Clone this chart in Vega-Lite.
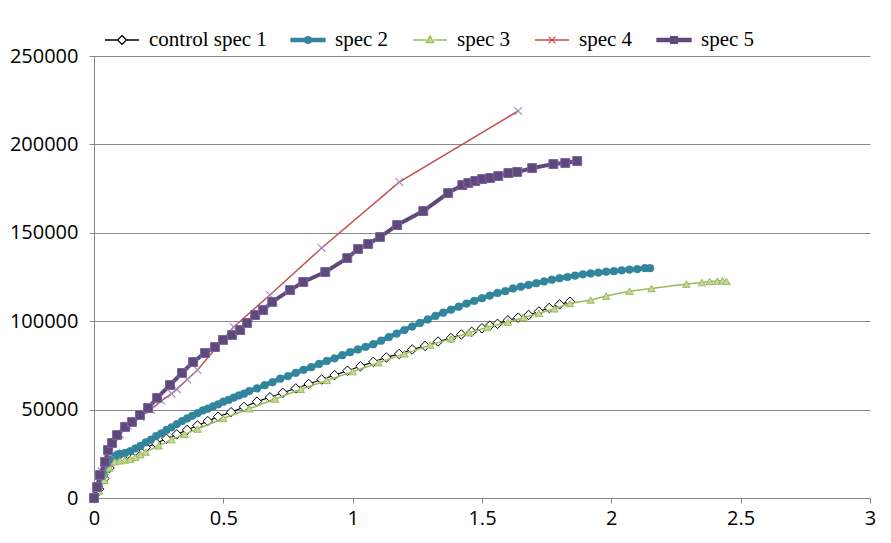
{
  "$schema": "https://vega.github.io/schema/vega-lite/v6.json",
  "width": 776,
  "height": 442,
  "autosize": {"type": "none"},
  "padding": {"left": 94, "top": 56, "right": 21, "bottom": 45},
  "background": "white",
  "config": {"view": {"stroke": null}},
  "data": {"values": [
    {"s":"control spec 1","x":0,"y":0},{"s":"control spec 1","x":0.02,"y":5000},{"s":"control spec 1","x":0.04,"y":11000},{"s":"control spec 1","x":0.06,"y":17000},{"s":"control spec 1","x":0.08,"y":22000},{"s":"control spec 1","x":0.1,"y":24500},{"s":"control spec 1","x":0.13,"y":25000},{"s":"control spec 1","x":0.16,"y":26500},{"s":"control spec 1","x":0.2,"y":28500},{"s":"control spec 1","x":0.24,"y":31000},{"s":"control spec 1","x":0.28,"y":33500},{"s":"control spec 1","x":0.32,"y":36000},{"s":"control spec 1","x":0.36,"y":38500},{"s":"control spec 1","x":0.4,"y":41000},{"s":"control spec 1","x":0.44,"y":43500},{"s":"control spec 1","x":0.48,"y":46000},{"s":"control spec 1","x":0.53,"y":48500},{"s":"control spec 1","x":0.58,"y":51500},{"s":"control spec 1","x":0.63,"y":54500},{"s":"control spec 1","x":0.68,"y":57000},{"s":"control spec 1","x":0.73,"y":59500},{"s":"control spec 1","x":0.78,"y":62000},{"s":"control spec 1","x":0.83,"y":64500},{"s":"control spec 1","x":0.88,"y":67000},{"s":"control spec 1","x":0.93,"y":69500},{"s":"control spec 1","x":0.98,"y":72000},{"s":"control spec 1","x":1.03,"y":74500},{"s":"control spec 1","x":1.08,"y":77000},{"s":"control spec 1","x":1.13,"y":79500},{"s":"control spec 1","x":1.18,"y":81500},{"s":"control spec 1","x":1.23,"y":84000},{"s":"control spec 1","x":1.28,"y":86000},{"s":"control spec 1","x":1.33,"y":88500},{"s":"control spec 1","x":1.38,"y":90500},{"s":"control spec 1","x":1.42,"y":92500},{"s":"control spec 1","x":1.46,"y":94000},{"s":"control spec 1","x":1.5,"y":96000},{"s":"control spec 1","x":1.53,"y":97500},{"s":"control spec 1","x":1.56,"y":98500},{"s":"control spec 1","x":1.6,"y":100500},{"s":"control spec 1","x":1.64,"y":102000},{"s":"control spec 1","x":1.68,"y":103500},{"s":"control spec 1","x":1.72,"y":105500},{"s":"control spec 1","x":1.76,"y":107500},{"s":"control spec 1","x":1.8,"y":109500},{"s":"control spec 1","x":1.84,"y":111000},
    {"s":"spec 2","x":0,"y":0},{"s":"spec 2","x":0.01,"y":3000},{"s":"spec 2","x":0.02,"y":6500},{"s":"spec 2","x":0.03,"y":10000},{"s":"spec 2","x":0.04,"y":13500},{"s":"spec 2","x":0.05,"y":16500},{"s":"spec 2","x":0.06,"y":19500},{"s":"spec 2","x":0.07,"y":22000},{"s":"spec 2","x":0.08,"y":23500},{"s":"spec 2","x":0.09,"y":24500},{"s":"spec 2","x":0.1,"y":25000},{"s":"spec 2","x":0.12,"y":25500},{"s":"spec 2","x":0.14,"y":26500},{"s":"spec 2","x":0.16,"y":28000},{"s":"spec 2","x":0.18,"y":29500},{"s":"spec 2","x":0.2,"y":31500},{"s":"spec 2","x":0.22,"y":33000},{"s":"spec 2","x":0.24,"y":35000},{"s":"spec 2","x":0.26,"y":36500},{"s":"spec 2","x":0.28,"y":38500},{"s":"spec 2","x":0.3,"y":40000},{"s":"spec 2","x":0.32,"y":41800},{"s":"spec 2","x":0.34,"y":43500},{"s":"spec 2","x":0.36,"y":45000},{"s":"spec 2","x":0.38,"y":46500},{"s":"spec 2","x":0.4,"y":48000},{"s":"spec 2","x":0.42,"y":49500},{"s":"spec 2","x":0.44,"y":50500},{"s":"spec 2","x":0.46,"y":51800},{"s":"spec 2","x":0.48,"y":53000},{"s":"spec 2","x":0.5,"y":54500},{"s":"spec 2","x":0.52,"y":55500},{"s":"spec 2","x":0.54,"y":56800},{"s":"spec 2","x":0.56,"y":58000},{"s":"spec 2","x":0.58,"y":59000},{"s":"spec 2","x":0.6,"y":60500},{"s":"spec 2","x":0.63,"y":62000},{"s":"spec 2","x":0.66,"y":63800},{"s":"spec 2","x":0.69,"y":65500},{"s":"spec 2","x":0.72,"y":67500},{"s":"spec 2","x":0.75,"y":69000},{"s":"spec 2","x":0.78,"y":70800},{"s":"spec 2","x":0.81,"y":72500},{"s":"spec 2","x":0.84,"y":74000},{"s":"spec 2","x":0.87,"y":75800},{"s":"spec 2","x":0.9,"y":77500},{"s":"spec 2","x":0.93,"y":79000},{"s":"spec 2","x":0.96,"y":80800},{"s":"spec 2","x":0.99,"y":82500},{"s":"spec 2","x":1.02,"y":84000},{"s":"spec 2","x":1.05,"y":85500},{"s":"spec 2","x":1.08,"y":87000},{"s":"spec 2","x":1.11,"y":89000},{"s":"spec 2","x":1.14,"y":91000},{"s":"spec 2","x":1.17,"y":93000},{"s":"spec 2","x":1.2,"y":95000},{"s":"spec 2","x":1.23,"y":97000},{"s":"spec 2","x":1.26,"y":99000},{"s":"spec 2","x":1.29,"y":101000},{"s":"spec 2","x":1.32,"y":103000},{"s":"spec 2","x":1.35,"y":104800},{"s":"spec 2","x":1.38,"y":106500},{"s":"spec 2","x":1.41,"y":108200},{"s":"spec 2","x":1.44,"y":110000},{"s":"spec 2","x":1.47,"y":111500},{"s":"spec 2","x":1.5,"y":113000},{"s":"spec 2","x":1.53,"y":114500},{"s":"spec 2","x":1.56,"y":116000},{"s":"spec 2","x":1.59,"y":117000},{"s":"spec 2","x":1.62,"y":118500},{"s":"spec 2","x":1.65,"y":119500},{"s":"spec 2","x":1.68,"y":120500},{"s":"spec 2","x":1.71,"y":121500},{"s":"spec 2","x":1.74,"y":122500},{"s":"spec 2","x":1.77,"y":123500},{"s":"spec 2","x":1.8,"y":124300},{"s":"spec 2","x":1.83,"y":125000},{"s":"spec 2","x":1.86,"y":125800},{"s":"spec 2","x":1.89,"y":126500},{"s":"spec 2","x":1.92,"y":127000},{"s":"spec 2","x":1.95,"y":127500},{"s":"spec 2","x":1.98,"y":128000},{"s":"spec 2","x":2.01,"y":128300},{"s":"spec 2","x":2.04,"y":128800},{"s":"spec 2","x":2.07,"y":129200},{"s":"spec 2","x":2.1,"y":129500},{"s":"spec 2","x":2.13,"y":130000},{"s":"spec 2","x":2.15,"y":130000},
    {"s":"spec 3","x":0,"y":0},{"s":"spec 3","x":0.02,"y":4000},{"s":"spec 3","x":0.04,"y":10000},{"s":"spec 3","x":0.06,"y":17000},{"s":"spec 3","x":0.08,"y":20500},{"s":"spec 3","x":0.1,"y":21000},{"s":"spec 3","x":0.12,"y":21500},{"s":"spec 3","x":0.14,"y":22000},{"s":"spec 3","x":0.16,"y":23000},{"s":"spec 3","x":0.18,"y":24500},{"s":"spec 3","x":0.2,"y":26000},{"s":"spec 3","x":0.25,"y":29500},{"s":"spec 3","x":0.3,"y":33000},{"s":"spec 3","x":0.35,"y":36000},{"s":"spec 3","x":0.4,"y":39000},{"s":"spec 3","x":0.5,"y":45000},{"s":"spec 3","x":0.6,"y":50500},{"s":"spec 3","x":0.7,"y":56000},{"s":"spec 3","x":0.8,"y":61500},{"s":"spec 3","x":0.9,"y":66500},{"s":"spec 3","x":1.0,"y":71500},{"s":"spec 3","x":1.1,"y":76500},{"s":"spec 3","x":1.2,"y":81500},{"s":"spec 3","x":1.3,"y":86500},{"s":"spec 3","x":1.38,"y":90000},{"s":"spec 3","x":1.45,"y":93500},{"s":"spec 3","x":1.52,"y":96500},{"s":"spec 3","x":1.6,"y":99500},{"s":"spec 3","x":1.66,"y":102000},{"s":"spec 3","x":1.72,"y":104500},{"s":"spec 3","x":1.78,"y":107000},{"s":"spec 3","x":1.84,"y":110000},{"s":"spec 3","x":1.92,"y":112000},{"s":"spec 3","x":1.98,"y":114200},{"s":"spec 3","x":2.07,"y":117000},{"s":"spec 3","x":2.155,"y":118500},{"s":"spec 3","x":2.29,"y":121000},{"s":"spec 3","x":2.35,"y":121900},{"s":"spec 3","x":2.38,"y":122500},{"s":"spec 3","x":2.41,"y":122700},{"s":"spec 3","x":2.43,"y":123000},{"s":"spec 3","x":2.445,"y":122500},
    {"s":"spec 4","x":0,"y":0},{"s":"spec 4","x":0.03,"y":15000},{"s":"spec 4","x":0.06,"y":25000},{"s":"spec 4","x":0.1,"y":36000},{"s":"spec 4","x":0.13,"y":41000},{"s":"spec 4","x":0.15,"y":43000},{"s":"spec 4","x":0.18,"y":46000},{"s":"spec 4","x":0.22,"y":50000},{"s":"spec 4","x":0.26,"y":55000},{"s":"spec 4","x":0.3,"y":59000},{"s":"spec 4","x":0.32,"y":61600},{"s":"spec 4","x":0.36,"y":67000},{"s":"spec 4","x":0.4,"y":72400},{"s":"spec 4","x":0.54,"y":96700},{"s":"spec 4","x":0.68,"y":114800},{"s":"spec 4","x":0.88,"y":141400},{"s":"spec 4","x":1.18,"y":178700},{"s":"spec 4","x":1.64,"y":218900},
    {"s":"spec 5","x":0,"y":0},{"s":"spec 5","x":0.012,"y":6200},{"s":"spec 5","x":0.023,"y":13000},{"s":"spec 5","x":0.043,"y":20400},{"s":"spec 5","x":0.054,"y":27100},{"s":"spec 5","x":0.07,"y":31100},{"s":"spec 5","x":0.089,"y":35600},{"s":"spec 5","x":0.12,"y":40200},{"s":"spec 5","x":0.147,"y":43000},{"s":"spec 5","x":0.178,"y":46900},{"s":"spec 5","x":0.209,"y":50900},{"s":"spec 5","x":0.244,"y":56600},{"s":"spec 5","x":0.294,"y":63900},{"s":"spec 5","x":0.34,"y":70700},{"s":"spec 5","x":0.383,"y":76900},{"s":"spec 5","x":0.429,"y":82000},{"s":"spec 5","x":0.468,"y":85400},{"s":"spec 5","x":0.499,"y":89400},{"s":"spec 5","x":0.534,"y":92200},{"s":"spec 5","x":0.565,"y":95000},{"s":"spec 5","x":0.592,"y":99000},{"s":"spec 5","x":0.623,"y":103500},{"s":"spec 5","x":0.654,"y":106300},{"s":"spec 5","x":0.689,"y":110900},{"s":"spec 5","x":0.758,"y":117600},{"s":"spec 5","x":0.809,"y":122200},{"s":"spec 5","x":0.894,"y":127800},{"s":"spec 5","x":0.979,"y":135700},{"s":"spec 5","x":1.021,"y":140800},{"s":"spec 5","x":1.06,"y":143700},{"s":"spec 5","x":1.106,"y":147600},{"s":"spec 5","x":1.172,"y":154400},{"s":"spec 5","x":1.273,"y":162300},{"s":"spec 5","x":1.369,"y":172500},{"s":"spec 5","x":1.424,"y":177000},{"s":"spec 5","x":1.447,"y":178200},{"s":"spec 5","x":1.474,"y":179300},{"s":"spec 5","x":1.501,"y":180400},{"s":"spec 5","x":1.532,"y":181000},{"s":"spec 5","x":1.563,"y":182100},{"s":"spec 5","x":1.602,"y":183800},{"s":"spec 5","x":1.636,"y":184400},{"s":"spec 5","x":1.694,"y":186600},{"s":"spec 5","x":1.776,"y":188900},{"s":"spec 5","x":1.822,"y":189500},{"s":"spec 5","x":1.868,"y":190600}
  ]},
  "encoding": {
    "x": {"field": "x", "type": "quantitative", "scale": {"domain": [0, 3], "nice": false},
      "axis": {"values": [0, 0.5, 1, 1.5, 2, 2.5, 3], "format": "~g", "grid": false, "title": null, "labelFlush": false, "domainColor": "#868686", "tickColor": "#868686", "tickSize": 5, "labelFont": "Open Sans", "labelFontSize": 20, "labelColor": "#000000", "labelPadding": 5}},
    "y": {"field": "y", "type": "quantitative", "scale": {"domain": [0, 250000], "nice": false},
      "axis": {"values": [0, 50000, 100000, 150000, 200000, 250000], "format": "d", "grid": true, "gridColor": "#878787", "title": null, "domainColor": "#868686", "tickColor": "#868686", "tickSize": 5, "labelFont": "Open Sans", "labelFontSize": 20, "labelColor": "#000000", "labelPadding": 11}}
  },
  "layer": [
    {"transform": [{"filter": "datum.s === 'control spec 1'"}], "mark": {"type": "line", "strokeWidth": 1.2},
      "encoding": {"color": {"field": "s", "type": "nominal",
        "scale": {"domain": ["control spec 1", "spec 2", "spec 3", "spec 4", "spec 5"], "range": ["#000000", "#31859C", "#9BBB59", "#C0504D", "#5F497A"]},
        "legend": {"orient": "none", "legendX": 10, "legendY": -34, "direction": "horizontal", "title": null, "padding": 0,
          "symbolSize": 1156, "symbolStrokeWidth": 1.3, "symbolType": "circle", "labelFont": "Liberation Serif", "labelFontSize": 21, "labelColor": "#000000", "labelOffset": 9, "columnPadding": 21,
          "encode": {"symbols": {"update": {
            "shape": {"signal": "['M-1,0L-0.26,0M0.26,0L1,0M0,-0.26L0.26,0L0,0.26L-0.26,0Z','M-1,-0.1L1,-0.1L1,0.1L-1,0.1ZM0.21,0L0.15,0.15L0,0.21L-0.15,0.15L-0.21,0L-0.15,-0.15L0,-0.21L0.15,-0.15Z','M-1,0L-0.22,0M0.22,0L1,0M0,-0.24L0.22,0.16L-0.22,0.16Z','M-1,0L1,0M-0.2,-0.2L0.2,0.2M-0.2,0.2L0.2,-0.2','M-1,-0.1L1,-0.1L1,0.1L-1,0.1ZM-0.2,-0.2L0.2,-0.2L0.2,0.2L-0.2,0.2Z'][indexof(['control spec 1','spec 2','spec 3','spec 4','spec 5'], datum.value)]"},
            "fill": {"signal": "['#ffffff','#31859C','#C3D69B','transparent','#5F497A'][indexof(['control spec 1','spec 2','spec 3','spec 4','spec 5'], datum.value)]"},
            "stroke": {"signal": "['#000000','#31859C','#9BBB59','#C0504D','#5F497A'][indexof(['control spec 1','spec 2','spec 3','spec 4','spec 5'], datum.value)]"},
            "opacity": {"value": 1}
          }}}}}}},
    {"transform": [{"filter": "datum.s === 'control spec 1'"}], "mark": {"type": "point", "shape": "diamond", "filled": true, "fill": "#ffffff", "stroke": "#000000", "strokeWidth": 1, "size": 90, "opacity": 1}},
    {"transform": [{"filter": "datum.s === 'spec 2'"}], "mark": {"type": "line", "strokeWidth": 4.5}, "encoding": {"color": {"field": "s", "type": "nominal"}}},
    {"transform": [{"filter": "datum.s === 'spec 2'"}], "mark": {"type": "point", "shape": "circle", "filled": true, "fill": "#31859C", "stroke": "#31859C", "strokeWidth": 0.5, "size": 60, "opacity": 1}},
    {"transform": [{"filter": "datum.s === 'spec 3'"}], "mark": {"type": "line", "strokeWidth": 1.5}, "encoding": {"color": {"field": "s", "type": "nominal"}}},
    {"transform": [{"filter": "datum.s === 'spec 3'"}], "mark": {"type": "point", "shape": "triangle-up", "filled": true, "fill": "#C3D69B", "stroke": "#9BBB59", "strokeWidth": 1, "size": 55, "opacity": 1}},
    {"transform": [{"filter": "datum.s === 'spec 4'"}], "mark": {"type": "line", "strokeWidth": 1.5}, "encoding": {"color": {"field": "s", "type": "nominal"}}},
    {"transform": [{"filter": "datum.s === 'spec 4'"}], "mark": {"type": "point", "shape": "M-1,-1L1,1M-1,1L1,-1", "filled": false, "stroke": "#9F8BC2", "strokeWidth": 1.2, "size": 60, "opacity": 1}},
    {"transform": [{"filter": "datum.s === 'spec 5'"}], "mark": {"type": "line", "strokeWidth": 4}, "encoding": {"color": {"field": "s", "type": "nominal"}}},
    {"transform": [{"filter": "datum.s === 'spec 5'"}], "mark": {"type": "point", "shape": "square", "filled": true, "fill": "#5F497A", "stroke": "#7B66A0", "strokeWidth": 1, "size": 80, "opacity": 1}}
  ]
}
